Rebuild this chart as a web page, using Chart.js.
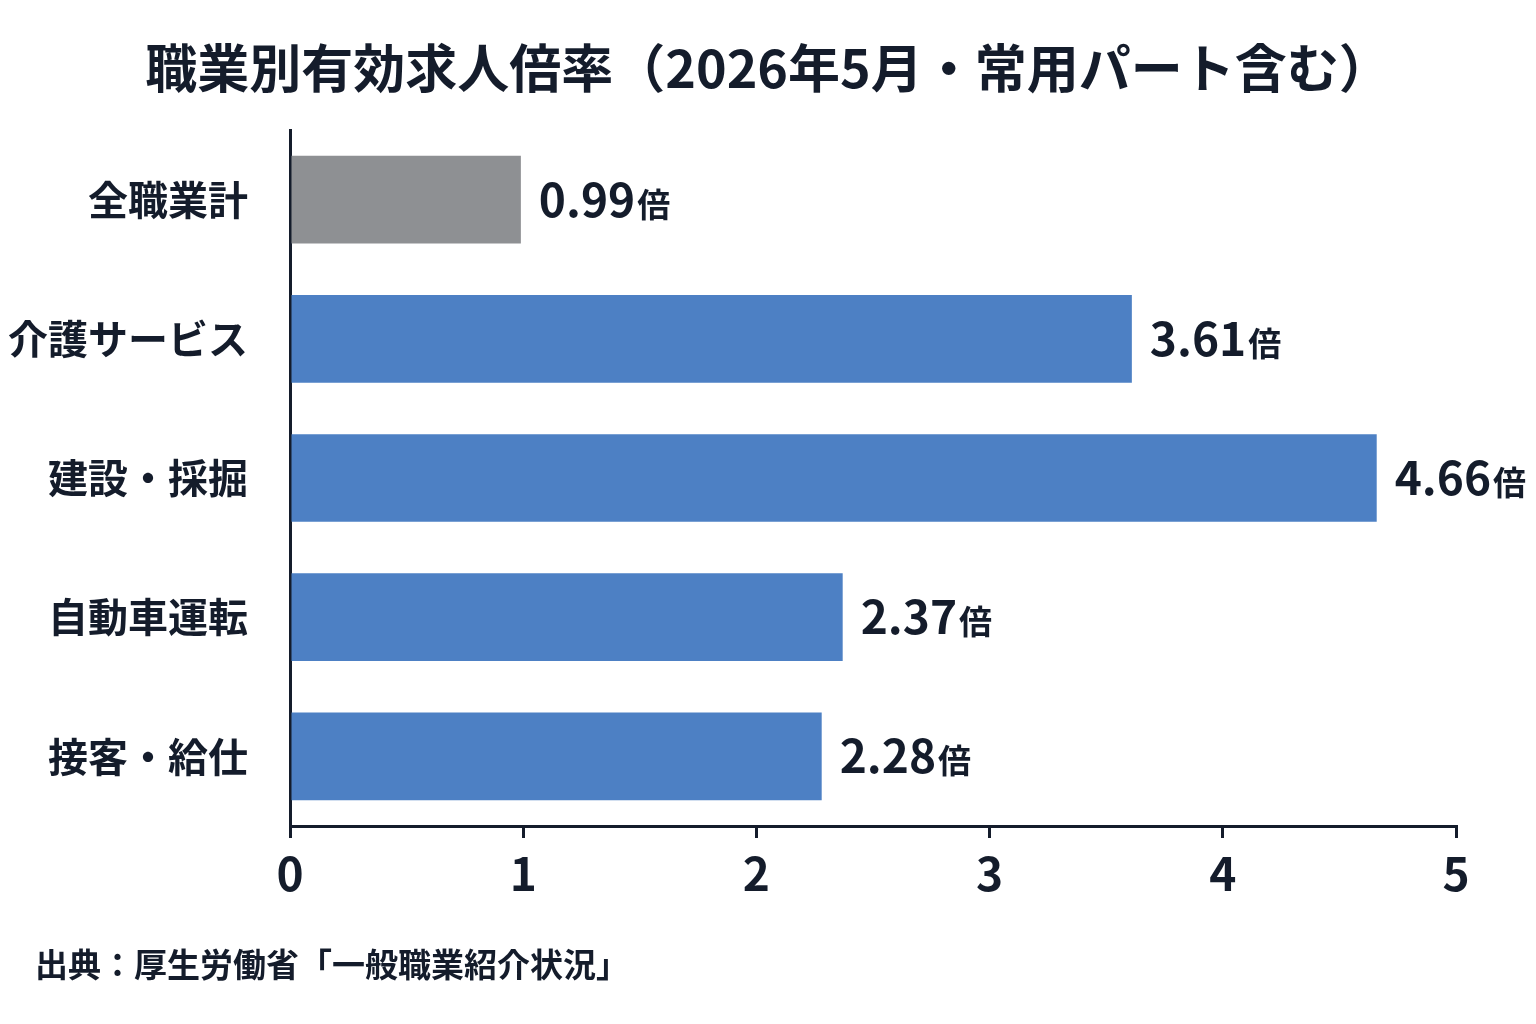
<!DOCTYPE html>
<html lang="ja">
<head>
<meta charset="utf-8">
<script src="https://cdn.jsdelivr.net/npm/chart.js@4/dist/chart.umd.min.js"></script>
<style>
  html, body { margin: 0; padding: 0; background: #ffffff; }
  body { width: 1536px; height: 1024px; position: relative; overflow: hidden;
         font-family: "Noto Sans CJK JP", "Noto Sans", sans-serif; color: #141c2b; }
  #title { position: absolute; left: 0; top: 26px; width: 1536px; text-align: center;
           font-size: 52px; font-weight: 700; line-height: 80px; margin: 0; letter-spacing: 0px; }
  #source { position: absolute; left: 35px; top: 940px; font-size: 33px; font-weight: 700; line-height: 46px; }
  #wrap { position: absolute; left: 0; top: 0; width: 1536px; height: 1024px; }
  #c { display: block; }
</style>
</head>
<body>
<div id="wrap"><canvas id="c" width="1536" height="1024"></canvas></div>
<h1 id="title">職業別有効求人倍率（2026年5月・常用パート含む）</h1>
<div id="source">出典：厚生労働省「一般職業紹介状況」</div>
<script>
const categories = ["全職業計", "介護サービス", "建設・採掘", "自動車運転", "接客・給仕"];
const ratios = [0.99, 3.61, 4.66, 2.37, 2.28];
const barColors = ["#8e9093", "#4d80c4", "#4d80c4", "#4d80c4", "#4d80c4"];
const xTicks = [0, 1, 2, 3, 4, 5];
const unitLabel = "倍";

const textColor = "#141c2b";
const fontFamily = '"Noto Sans CJK JP", "Noto Sans", sans-serif';

const valueLabels = {
  id: "valueLabels",
  afterDatasetsDraw(chart) {
    const ctx = chart.ctx;
    const meta = chart.getDatasetMeta(0);
    ctx.save();
    ctx.fillStyle = textColor;
    ctx.textBaseline = "alphabetic";
    ctx.textAlign = "left";
    meta.data.forEach((bar, i) => {
      const num = ratios[i].toFixed(2);
      const x = bar.x + 18;
      const y = bar.y + 17;
      ctx.font = "700 46px " + fontFamily;
      ctx.fillText(num, x, y);
      const w = ctx.measureText(num).width;
      ctx.font = "700 33px " + fontFamily;
      ctx.fillText(unitLabel, x + w + 2, y);
    });
    ctx.restore();
  }
};

new Chart(document.getElementById("c"), {
  type: "bar",
  data: {
    labels: categories,
    datasets: [{
      data: ratios,
      backgroundColor: barColors,
      borderWidth: 0,
      barPercentage: 0.9,
      categoryPercentage: 0.7
    }]
  },
  options: {
    indexAxis: "y",
    responsive: false,
    maintainAspectRatio: false,
    animation: false,
    devicePixelRatio: 1,
    layout: { padding: { top: 130, right: 80, bottom: 118, left: 0 } },
    plugins: { legend: { display: false }, title: { display: false }, tooltip: { enabled: false } },
    scales: {
      x: {
        min: 0, max: 5,
        afterBuildTicks(axis) { axis.ticks = xTicks.map(v => ({ value: v })); },
        afterFit(axis) { axis.height = 80; },
        grid: { display: true, drawOnChartArea: false, drawTicks: true, tickLength: 12, color: textColor, lineWidth: 3 },
        border: { display: true, color: textColor, width: 3 },
        ticks: { color: textColor, padding: 8, font: { family: fontFamily, size: 46, weight: "700" } }
      },
      y: {
        afterFit(axis) { axis.width = 290; },
        grid: { display: false, drawTicks: false },
        border: { display: true, color: textColor, width: 3 },
        ticks: { color: textColor, padding: 42, font: { family: fontFamily, size: 40, weight: "700" } }
      }
    }
  },
  plugins: [valueLabels]
});
</script>
</body>
</html>
